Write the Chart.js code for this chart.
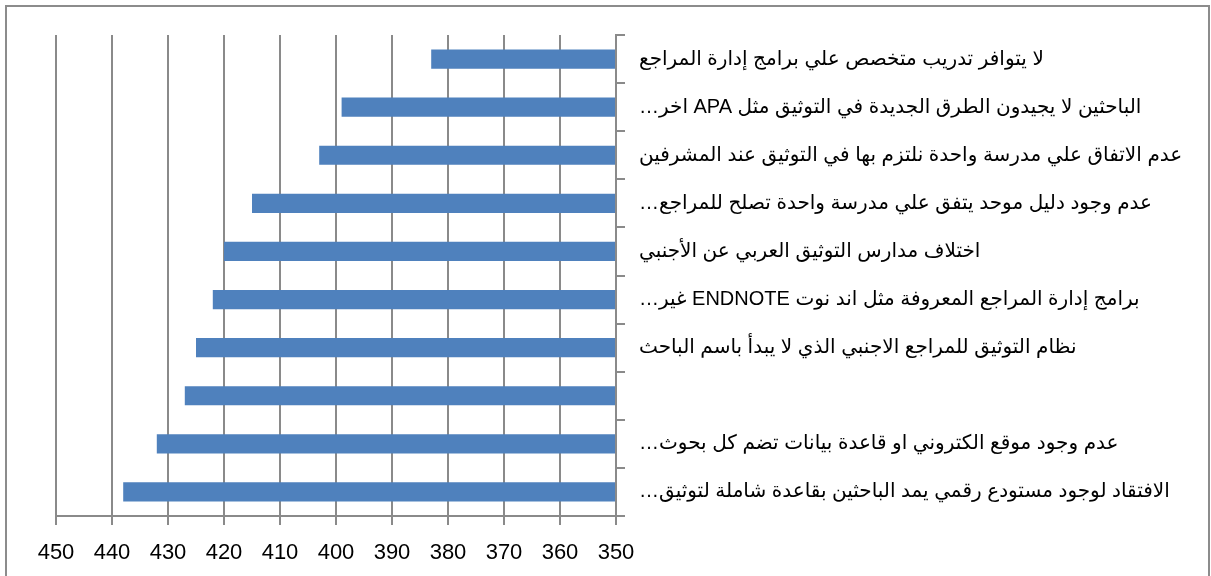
<!DOCTYPE html>
<html>
<head>
<meta charset="utf-8">
<script src="https://cdn.jsdelivr.net/npm/chart.js@4/dist/chart.umd.min.js"></script>
<style>
  html, body { margin: 0; padding: 0; background: #fff; }
</style>
</head>
<body>
<canvas id="chart" width="1211" height="576" dir="rtl"></canvas>
<script>
// categories, top to bottom
const CATEGORIES = [
  "لا يتوافر تدريب متخصص علي برامج إدارة المراجع",
  "الباحثين لا يجيدون الطرق الجديدة في التوثيق مثل APA اخر…",
  "عدم الاتفاق علي مدرسة واحدة نلتزم بها في التوثيق عند المشرفين",
  "عدم وجود دليل موحد يتفق علي مدرسة واحدة تصلح للمراجع…",
  "اختلاف مدارس التوثيق العربي عن الأجنبي",
  "برامج إدارة المراجع المعروفة مثل اند نوت ENDNOTE غير…",
  "نظام التوثيق للمراجع الاجنبي الذي لا يبدأ باسم الباحث",
  "",
  "عدم وجود موقع الكتروني او قاعدة بيانات تضم كل بحوث…",
  "الافتقاد لوجود مستودع رقمي يمد الباحثين بقاعدة شاملة لتوثيق…",
];

const VALUES = [383, 399, 403, 415, 420, 422, 425, 427, 432, 438];

const AXIS_MIN = 350;
const AXIS_MAX = 450;
const AXIS_STEP = 10;

const BAR_COLOR = "#4f81bd";
const GRID_COLOR = "#8a8a8a";
const FONT_FAMILY = '"Liberation Sans", "DejaVu Sans", Arial, sans-serif';

// outer frame of the chart object
const framePlugin = {
  id: "frame",
  afterDraw(chart) {
    const ctx = chart.ctx;
    ctx.save();
    ctx.strokeStyle = "#8c8c8c";
    ctx.lineWidth = 2;
    ctx.strokeRect(6, 6, chart.width - 8, chart.height + 20);
    ctx.restore();
  },
};

new Chart(document.getElementById("chart"), {
  type: "bar",
  data: {
    labels: CATEGORIES,
    datasets: [{
      data: VALUES,
      base: AXIS_MIN,
      backgroundColor: BAR_COLOR,
      borderWidth: 0,
      barPercentage: 0.4,
      categoryPercentage: 1,
    }],
  },
  options: {
    indexAxis: "y",
    responsive: false,
    animation: false,
    layout: { padding: { left: 56, top: 35, right: 0, bottom: 0 } },
    plugins: {
      legend: { display: false },
      tooltip: { enabled: false },
    },
    scales: {
      x: {
        type: "linear",
        reverse: true,
        min: AXIS_MIN,
        max: AXIS_MAX,
        ticks: {
          stepSize: AXIS_STEP,
          color: "#000",
          padding: 15,
          maxRotation: 0,
          font: { family: FONT_FAMILY, size: 22 },
        },
        grid: { color: GRID_COLOR, lineWidth: 2, tickLength: 9 },
        border: { color: GRID_COLOR, width: 2 },
        afterFit(scale) { scale.height = 60; },
      },
      y: {
        position: "right",
        ticks: {
          autoSkip: false,
          color: "#000",
          padding: 14,
          font: { family: FONT_FAMILY, size: 20 },
        },
        grid: { drawOnChartArea: false, color: GRID_COLOR, lineWidth: 2, tickLength: 9 },
        border: { color: GRID_COLOR, width: 2 },
        afterFit(scale) { scale.width = 595; },
      },
    },
  },
  plugins: [framePlugin],
});
</script>
</body>
</html>
